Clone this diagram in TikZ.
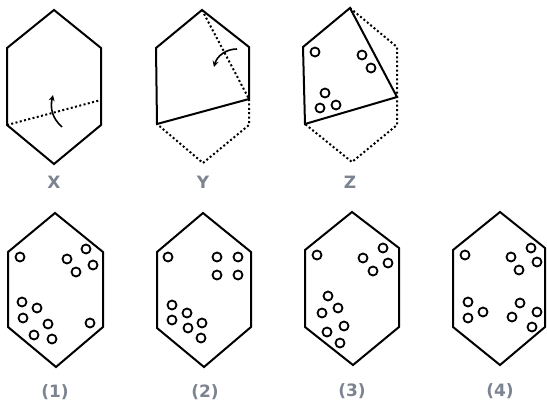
\documentclass[tikz,border=0pt]{standalone}
\usepackage{fontspec}
\newfontfamily\lblfont{DejaVu Sans}
\usetikzlibrary{arrows.meta}
\definecolor{lblgray}{RGB}{125,132,145}
\begin{document}
\begin{tikzpicture}[x=1pt,y=-1pt,
  edge/.style={line width=2pt,line join=miter},
  dotline/.style={line width=2pt,dash pattern=on 2pt off 2.4pt},
  spot/.style={circle,draw,line width=1.8pt,minimum size=9pt,inner sep=0pt},
  lbl/.style={text=lblgray,font=\lblfont\bfseries\fontsize{17}{17}\selectfont},
  foldarrow/.style={line width=1.6pt,-{Stealth[length=6pt,width=6pt]}}]
\useasboundingbox (0,0) rectangle (547,407);
\fill[white] (0,0) rectangle (547,407);

% ---------- X ----------
\coordinate (xt) at (54,10);
\coordinate (xul) at (7,48);
\coordinate (xur) at (101,48);
\coordinate (xll) at (7,125);
\coordinate (xlr) at (101,125);
\coordinate (xb) at (54,164);
\coordinate (xf) at (101,100);
\draw[edge] (xt) -- (xur) -- (xlr) -- (xb) -- (xll) -- (xul) -- cycle;
\draw[dotline] (xll) -- (xf);
\coordinate (xa1) at (62,127);
\coordinate (xa2) at (53,95);
\draw[foldarrow] (xa1) .. controls (52,118) and (50,108) .. (xa2);
\node[lbl] (lx) at (54,182) {X};

% ---------- Y ----------
\coordinate (yt) at (202,10);
\coordinate (yul) at (156,48);
\coordinate (yur) at (249,47);
\coordinate (yll) at (157,124);
\coordinate (yf) at (249,99);
\coordinate (ylr) at (249,125);
\coordinate (yb) at (203,163);
\draw[edge] (yf) -- (yll) -- (yul) -- (yt) -- (yur) -- (yf);
\draw[dotline] (yt) -- (yf);
\draw[dotline] (yf) -- (ylr) -- (yb) -- (yll);
\coordinate (ya1) at (237,49);
\coordinate (ya2) at (214,67);
\draw[foldarrow] (ya1) .. controls (226,49) and (217,56) .. (ya2);
\node[lbl] (ly) at (203,182) {Y};

% ---------- Z ----------
\coordinate (zt) at (350,8);
\coordinate (zul) at (303,47);
\coordinate (zll) at (305,124);
\coordinate (zf) at (397,97);
\coordinate (zur) at (397,47);
\coordinate (zlr) at (397,125);
\coordinate (zb) at (352,162);
\draw[edge] (zt) -- (zul) -- (zll) -- (zf) -- cycle;
\draw[dotline] (zt) -- (zur) -- (zlr) -- (zb) -- (zll);
\foreach \p [count=\i] in {(315,52),(362,55),(371,68),(325,93),(320,108),(336,105)}
  \node[spot] (z\i) at \p {};
\node[lbl] (lz) at (350,182) {Z};

% ---------- (1) ----------
\draw[edge] (55,213) coordinate (at) -- (103,252) coordinate (aur) -- (103,327) coordinate (alr)
  -- (56,367) coordinate (ab) -- (8,327) coordinate (all) -- (8,252) coordinate (aul) -- cycle;
\foreach \p [count=\i] in {(20,257),(86,249),(67,259),(93,265),(76,272),(22,302),(37,308),(23,318),(48,324),(90,323),(34,335),(52,339)}
  \node[spot] (a\i) at \p {};
\node[lbl] (l1) at (55,392) {(1)};

% ---------- (2) ----------
\draw[edge] (203,213) coordinate (bt) -- (251,252) coordinate (bur) -- (251,327) coordinate (blr)
  -- (204,367) coordinate (bb) -- (157,328) coordinate (bll) -- (157,252) coordinate (bul) -- cycle;
\foreach \p [count=\i] in {(168,257),(217,257),(238,257),(217,275),(238,275),(172,305),(187,313),(172,320),(202,323),(188,328),(201,338)}
  \node[spot] (b\i) at \p {};
\node[lbl] (l2) at (205,392) {(2)};

% ---------- (3) ----------
\draw[edge] (352,212) coordinate (ct) -- (399,248) coordinate (cur) -- (399,327) coordinate (clr)
  -- (353,365) coordinate (cb) -- (305,327) coordinate (cll) -- (305,250) coordinate (cul) -- cycle;
\foreach \p [count=\i] in {(317,255),(363,258),(383,248),(388,263),(373,271),(328,296),(338,308),(322,313),(344,326),(327,332),(340,343)}
  \node[spot] (c\i) at \p {};
\node[lbl] (l3) at (352,391) {(3)};

% ---------- (4) ----------
\draw[edge] (500,212) coordinate (dt) -- (545,248) coordinate (dur) -- (545,327) coordinate (dlr)
  -- (500,365) coordinate (db) -- (453,327) coordinate (dll) -- (453,250) coordinate (dul) -- cycle;
\foreach \p [count=\i] in {(465,255),(511,257),(531,248),(537,262),(519,270),(468,302),(483,312),(468,318),(520,303),(512,317),(537,312),(532,327)}
  \node[spot] (d\i) at \p {};
\node[lbl] (l4) at (500,391) {(4)};
\end{tikzpicture}
\end{document}
